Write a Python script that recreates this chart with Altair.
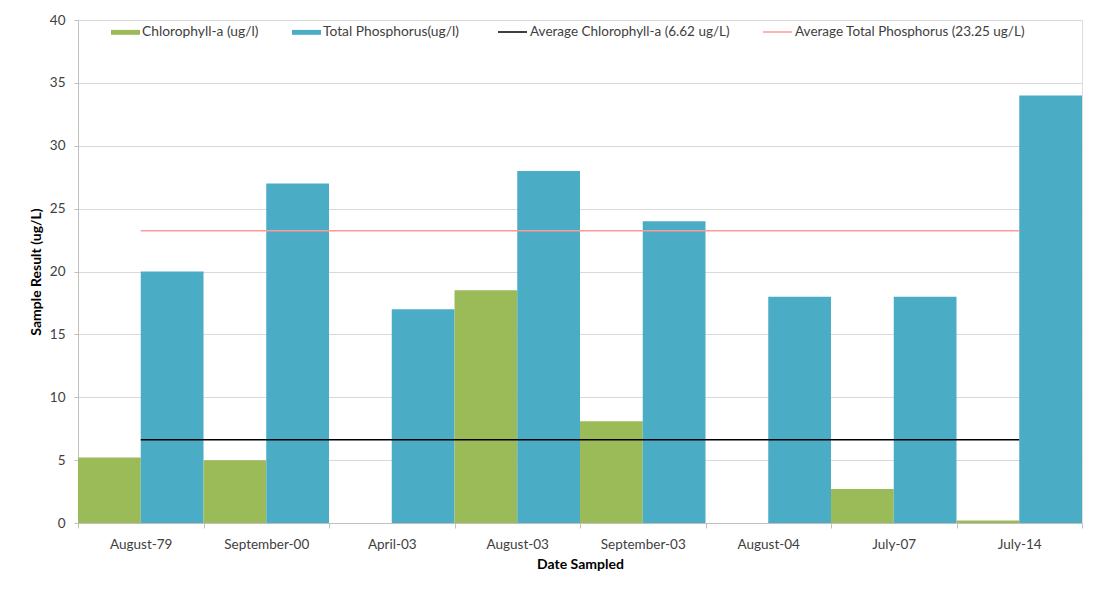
import altair as alt
import pandas as pd

dates = ["August-79", "September-00", "April-03", "August-03",
         "September-03", "August-04", "July-07", "July-14"]
chlorophyll = [5.2, 5.0, None, 18.5, 8.1, None, 2.7, 0.2]
phosphorus = [20, 27, 17, 28, 24, 18, 18, 34]

series_names = ["Chlorophyll-a (ug/l)", "Total Phosphorus(ug/l)"]
series_colors = ["#9BBB59", "#4BACC6"]

avg_names = ["Average Chlorophyll-a (6.62 ug/L)", "Average Total Phosphorus (23.25 ug/L)"]
avg_values = [6.62, 23.25]
avg_colors = ["#000000", "#FF9999"]

y_ticks = [0, 5, 10, 15, 20, 25, 30, 35, 40]

rows = []
for d, c, p in zip(dates, chlorophyll, phosphorus):
    if c is not None:
        rows.append({"Date": d, "Series": series_names[0], "Value": c})
    rows.append({"Date": d, "Series": series_names[1], "Value": p})
bars_df = pd.DataFrame(rows)

avg_df = pd.DataFrame({
    "label": avg_names,
    "value": avg_values,
    "start": [dates[0]] * 2,
    "end": [dates[-1]] * 2,
})

FONT = "Lato"
x_scale = alt.Scale(domain=dates, paddingInner=0, paddingOuter=0)
y_scale = alt.Scale(domain=[0, 40], nice=False)

bars = alt.Chart(bars_df).mark_bar(stroke=None).encode(
    x=alt.X("Date:N", scale=x_scale, sort=dates,
            axis=alt.Axis(title="Date Sampled", labelAngle=0, tickBand="extent",
                          domainColor="#BFBFBF", tickColor="#BFBFBF", tickSize=5,
                          labelPadding=9, titlePadding=7, labelFontSize=13.5,
                          labelColor="#404040", titleFontSize=14,
                          titleFontWeight="bold", titleColor="#000000",
                          labelFont=FONT, titleFont=FONT, grid=False)),
    xOffset=alt.XOffset("Series:N", sort=series_names,
                        scale=alt.Scale(domain=series_names, paddingInner=0, paddingOuter=0)),
    y=alt.Y("Value:Q", scale=y_scale,
            axis=alt.Axis(title="Sample Result (ug/L)", values=y_ticks,
                          gridColor="#D9D9D9", domainColor="#BFBFBF",
                          tickColor="#BFBFBF", tickSize=4, labelPadding=9,
                          labelFontSize=13.5, labelColor="#404040",
                          titleFontSize=14, titleFontWeight="bold",
                          titleColor="#000000", titlePadding=6,
                          labelFont=FONT, titleFont=FONT)),
    fill=alt.Fill("Series:N",
                  scale=alt.Scale(domain=series_names, range=series_colors),
                  legend=alt.Legend(title=None, orient="none", legendX=33, legendY=-2.5,
                                    direction="horizontal",
                                    symbolType="M-1,-0.17H1V0.17H-1Z",
                                    symbolSize=841, symbolStrokeWidth=0,
                                    labelFont=FONT, labelFontSize=13.8,
                                    labelColor="#404040", labelOffset=2,
                                    labelLimit=0, columnPadding=33, padding=0)),
)

rules = alt.Chart(avg_df).mark_rule(strokeWidth=1.5).encode(
    x=alt.X("start:N", scale=x_scale, sort=dates),
    x2="end:N",
    y=alt.Y("value:Q", scale=y_scale),
    stroke=alt.Stroke("label:N",
                      scale=alt.Scale(domain=avg_names, range=avg_colors),
                      legend=alt.Legend(title=None, orient="none", legendX=419, legendY=-3.5,
                                        direction="horizontal",
                                        symbolType="stroke", symbolSize=841,
                                        symbolStrokeWidth=1.5,
                                        labelFont=FONT, labelFontSize=13.5,
                                        labelColor="#404040", labelOffset=2,
                                        labelLimit=0, columnPadding=30, padding=0)),
)

chart = alt.layer(bars, rules).resolve_scale(fill="independent", stroke="independent").properties(
    width=1004,
    height=503,
    autosize=alt.AutoSizeParams(type="none"),
    padding={"left": 70, "top": 12, "right": 10, "bottom": 70},
).configure_view(stroke=None).configure(background="white")

chart.save("out.html", embed_options={"renderer": "svg", "actions": False})
